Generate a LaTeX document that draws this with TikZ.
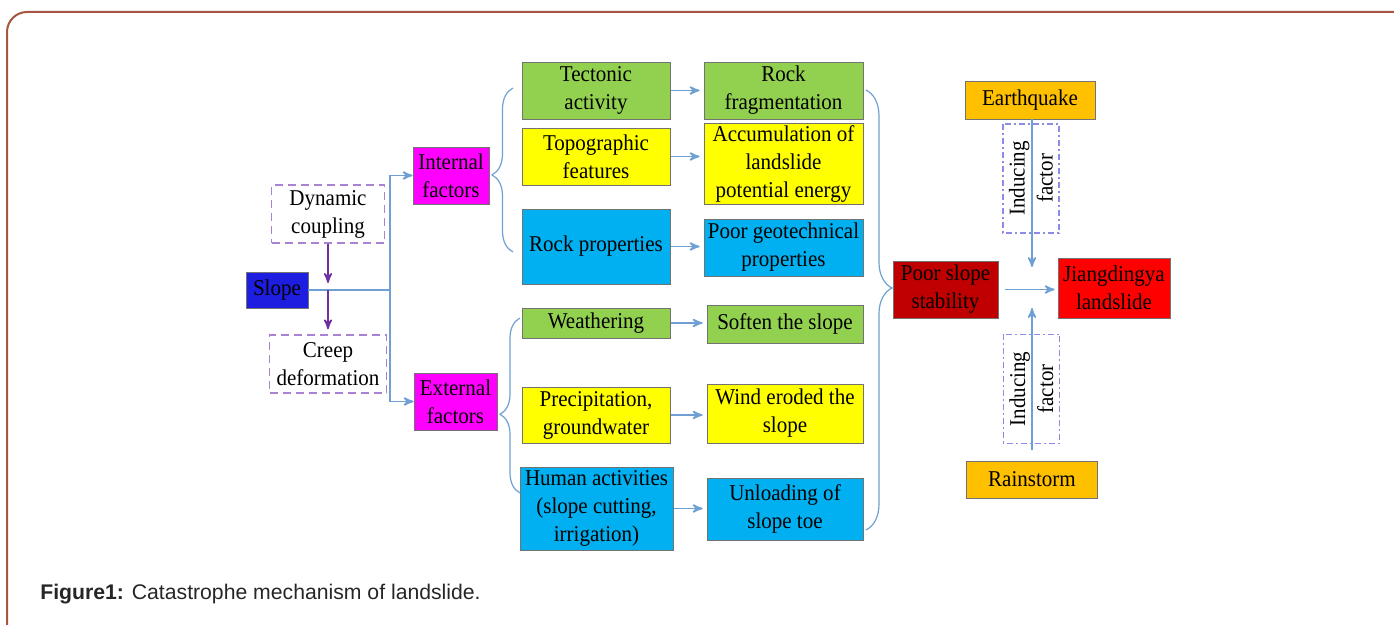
\documentclass[tikz,border=0pt]{standalone}
\usepackage{fontspec}
\setmainfont{Liberation Serif}[FakeStretch=0.93]
\newfontfamily\capfont{Liberation Sans}
\usetikzlibrary{arrows,positioning,decorations.pathreplacing}
\definecolor{cgreen}{RGB}{146,208,80}
\definecolor{cyellow}{RGB}{255,255,0}
\definecolor{cblue}{RGB}{0,176,240}
\definecolor{cmagenta}{RGB}{255,0,255}
\definecolor{cslope}{RGB}{30,30,225}
\definecolor{corange}{RGB}{255,192,0}
\definecolor{cdarkred}{RGB}{192,0,0}
\definecolor{cred}{RGB}{255,0,0}
\definecolor{clink}{RGB}{110,160,212}
\definecolor{cpurple}{RGB}{112,48,160}
\definecolor{cdash}{RGB}{170,130,210}
\definecolor{cdashdot}{RGB}{140,140,230}
\definecolor{cframe}{RGB}{165,85,65}
\tikzset
{
    box/.style      = {draw=black!55, line width=0.4pt, align=center, inner sep=1pt, text=black, font=\fontsize{11.3}{14}\selectfont},
    dashbox/.style  = {box, draw=cdash, line width=0.7pt, dash pattern=on 4pt off 2.5pt},
    inducebox/.style = {box, draw=cdashdot, line width=0.6pt, dash pattern=on 3pt off 1.5pt on 1pt off 1.5pt, rotate=90, minimum width=54.5pt, minimum height=28pt},
    link/.style     = {draw=clink, line width=0.8pt},
    plink/.style    = {draw=cpurple, line width=0.8pt},
    bracelink/.style = {draw=clink, line width=0.6pt, decorate, decoration={brace, amplitude=#1}}
}
\begin{document}
\begin{tikzpicture}[x=0.5pt, y=-0.5pt, >=stealth']
    \useasboundingbox (0,0) rectangle (1394,625);
    \draw [cframe, line width=1pt, rounded corners=10pt] (7,640) -- (7,12) -- (1400,12);

    \node [box, fill=cslope, minimum width=31pt, minimum height=18pt] (slope) at (277,290) {Slope};
    \node [dashbox, minimum width=56.5pt, minimum height=29pt] (dyn) at (328,214) {Dynamic\\coupling};
    \node [dashbox, minimum width=58.5pt, minimum height=29pt] (creep) at (328,364) {Creep\\deformation};
    \node [box, fill=cmagenta, minimum width=38pt, minimum height=28.5pt] (intf) at (451,175.5) {Internal\\factors};
    \node [box, fill=cmagenta, minimum width=41.5pt, minimum height=28.5pt] (extf) at (455.5,401.5) {External\\factors};

    \node [box, fill=cgreen, minimum width=74pt, minimum height=28.5pt] (tect) at (596,90.5) {Tectonic\\activity};
    \node [box, fill=cyellow, minimum width=74pt, minimum height=28.5pt] (topo) at (596,156.5) {Topographic\\features};
    \node [box, fill=cblue, minimum width=74pt, minimum height=37.5pt] (rockp) at (596,246.5) {Rock properties};
    \node [box, fill=cgreen, minimum width=74pt, minimum height=15pt] (weath) at (596,323) {Weathering};
    \node [box, fill=cyellow, minimum width=74pt, minimum height=28pt] (prec) at (596,415) {Precipitation,\\groundwater};
    \node [box, fill=cblue, minimum width=76.5pt, minimum height=41.5pt] (human) at (596.5,508.5) {Human activities\\(slope cutting,\\irrigation)};

    \node [box, fill=cgreen, minimum width=79.5pt, minimum height=28.5pt] (frag) at (783.5,90.5) {Rock\\fragmentation};
    \node [box, fill=cyellow, minimum width=79.5pt, minimum height=40.5pt] (accu) at (783.5,163.5) {Accumulation of\\landslide\\potential energy};
    \node [box, fill=cblue, minimum width=79.5pt, minimum height=28.5pt] (geo) at (783.5,247.5) {Poor geotechnical\\properties};
    \node [box, fill=cgreen, minimum width=78pt, minimum height=19pt] (soft) at (785,324) {Soften the slope};
    \node [box, fill=cyellow, minimum width=78pt, minimum height=29.5pt] (wind) at (785,413.5) {Wind eroded the\\slope};
    \node [box, fill=cblue, minimum width=78pt, minimum height=31pt] (unload) at (785,509) {Unloading of\\slope toe};

    \node [box, fill=cdarkred, minimum width=52.5pt, minimum height=28.5pt] (poor) at (945.5,289.5) {Poor slope\\stability};
    \node [box, fill=cred, minimum width=56pt, minimum height=30pt] (jiang) at (1114,288) {Jiangdingya\\landslide};
    \node [box, fill=corange, minimum width=65pt, minimum height=19pt] (quake) at (1030,100) {Earthquake};
    \node [box, fill=corange, minimum width=65.5pt, minimum height=18.5pt] (rain) at (1032,479.5) {Rainstorm};
    \node [inducebox] (ind1) at (1031,178.5) {Inducing\\factor};
    \node [inducebox] (ind2) at (1031.5,389) {Inducing\\factor};

    \coordinate (jn) at (390,290);
    \coordinate (pm) at (328,290);
    \coordinate (t1) at (1032,267);
    \coordinate (t2) at (1032,308);

    \draw [link] (slope.east) -- (jn);
    \draw [link, ->] (jn) |- (intf.west);
    \draw [link, ->] (jn) |- (extf.west);
    \draw [plink, ->, shorten >=3.5pt] (dyn.south) -- (pm);
    \draw [plink, ->, shorten >=2.5pt] (pm) -- (creep.north);

    \draw [bracelink=10.5pt, decoration={aspect=0.47}] (513,252) -- (513,88);
    \draw [bracelink=10pt, decoration={aspect=0.45}] (520,493) -- (520,318);
    \draw [bracelink=13pt, decoration={aspect=0.45}] (866,90) -- (866,530);

    \draw [link, ->, shorten <=0.5pt, shorten >=2pt] (tect.east) -- (tect.east -| frag.west);
    \draw [link, ->, shorten <=0.5pt, shorten >=2pt] (topo.east) -- (topo.east -| accu.west);
    \draw [link, ->, shorten <=0.5pt, shorten >=2pt] (rockp.east) -- (rockp.east -| geo.west);
    \draw [link, ->, shorten <=0.5pt, shorten >=2pt] (weath.east) -- (weath.east -| soft.west);
    \draw [link, ->, shorten <=0.5pt, shorten >=2pt] (prec.east) -- (prec.east -| wind.west);
    \draw [link, ->, shorten <=0.5pt, shorten >=2pt] (human.east) -- (human.east -| unload.west);

    \draw [link, ->, shorten <=3.5pt, shorten >=1.5pt] (poor.east) -- (poor.east -| jiang.west);
    \draw [link, ->] (quake.south -| t1) -- (t1);
    \draw [link, ->, shorten <=5.5pt] (rain.north -| t2) -- (t2);

    \node [anchor=base west, inner sep=0pt, text=black!85, font=\capfont\fontsize{10.6}{12}\selectfont] (caption) at (40,600) {\textbf{Figure1:} Catastrophe mechanism of landslide.};
\end{tikzpicture}
\end{document}
